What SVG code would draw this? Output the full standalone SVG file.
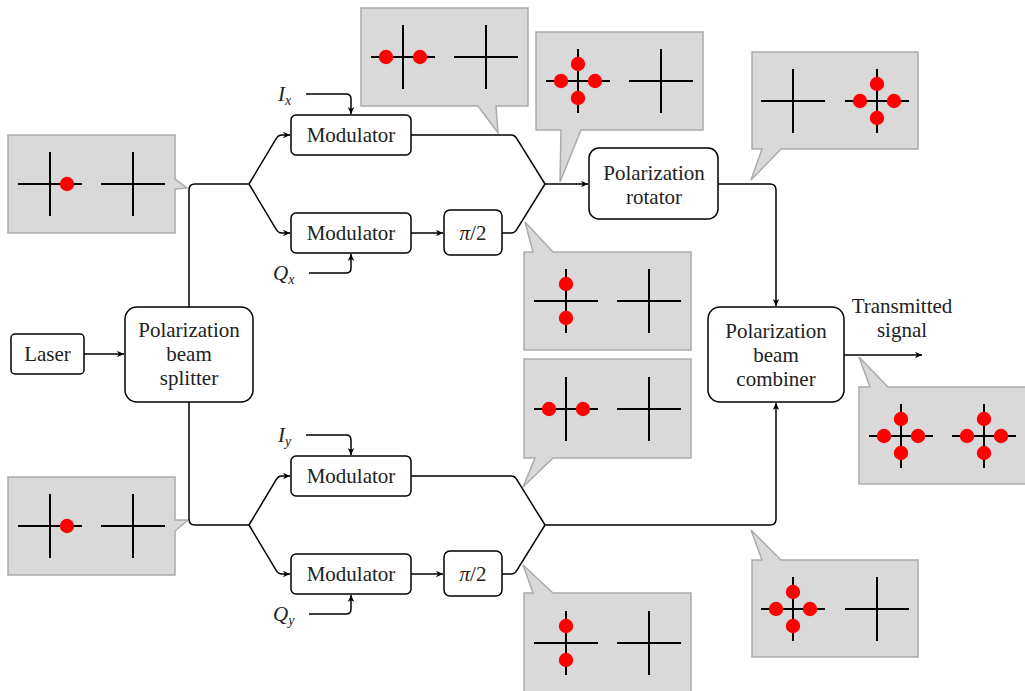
<svg xmlns="http://www.w3.org/2000/svg" xmlns:xlink="http://www.w3.org/1999/xlink" width="1025" height="691" viewBox="0 0 1025 691">
<style>
.box{fill:#fff;stroke:#000;stroke-width:1.5}
.t{font-size:21px;fill:#222;text-anchor:middle}
.m{font-size:21px;font-style:italic;fill:#222}
.sub{font-size:14px}
.c{fill:none;stroke:#000;stroke-width:1.5}
.co{fill:#d9d9d9;stroke:#ababab;stroke-width:1.5}
.x{stroke:#000;stroke-width:2}
</style>
<defs>
<marker id="ar" viewBox="-8 -4 9 8" refX="0" refY="0" markerWidth="9" markerHeight="8" markerUnits="userSpaceOnUse" orient="auto">
<path d="M-7,-3.3 L0,0 L-7,3.3 L-5,0 Z" fill="#000"/>
</marker>
<g id="cross"><line class="x" x1="-32" y1="0" x2="32" y2="0"/><line class="x" x1="0" y1="-32" x2="0" y2="32"/></g>
<circle id="dot" r="7.2" fill="#ff0000"/>
</defs>

<g id="callouts">
<g id="callout1"><path class="co" d="M8,135 H175 V179 L187,188 L175,189 V233 H8 Z"/>
<use xlink:href="#cross" x="50" y="184"/><use xlink:href="#dot" x="67" y="184"/><use xlink:href="#cross" x="133" y="184"/></g>
<g id="callout2"><path class="co" d="M361,8 H528 V106 H496 L498,133 L478,106 H361 Z"/>
<use xlink:href="#cross" x="403" y="57"/><use xlink:href="#dot" x="386" y="57"/><use xlink:href="#dot" x="420" y="57"/><use xlink:href="#cross" x="486" y="57"/></g>
<g id="callout3"><path class="co" d="M536,32 H703 V130 H581 L560,182 L561,130 H536 Z"/>
<use xlink:href="#cross" x="578" y="81"/><use xlink:href="#dot" x="561" y="81"/><use xlink:href="#dot" x="595" y="81"/><use xlink:href="#dot" x="578" y="64"/><use xlink:href="#dot" x="578" y="98"/><use xlink:href="#cross" x="661" y="81"/></g>
<g id="callout4"><path class="co" d="M752,52 H918 V149 H781 L751,180 L762,149 H752 Z"/>
<use xlink:href="#cross" x="793" y="101"/><use xlink:href="#cross" x="877" y="101"/><use xlink:href="#dot" x="860" y="101"/><use xlink:href="#dot" x="894" y="101"/><use xlink:href="#dot" x="877" y="84"/><use xlink:href="#dot" x="877" y="118"/></g>
<g id="callout5"><path class="co" d="M524,252 H533 L525,222 L553,252 H691 V350 H524 Z"/>
<use xlink:href="#cross" x="566" y="301"/><use xlink:href="#dot" x="566" y="284"/><use xlink:href="#dot" x="566" y="318"/><use xlink:href="#cross" x="649" y="301"/></g>
<g id="callout6"><path class="co" d="M524,359 H691 V458 H553 L523,487 L535,458 H524 Z"/>
<use xlink:href="#cross" x="566" y="409"/><use xlink:href="#dot" x="549" y="409"/><use xlink:href="#dot" x="583" y="409"/><use xlink:href="#cross" x="649" y="409"/></g>
<g id="callout7"><path class="co" d="M859,387 H870 L859,357 L888,387 H1026 V484 H859 Z"/>
<use xlink:href="#cross" x="901" y="436"/><use xlink:href="#dot" x="884" y="436"/><use xlink:href="#dot" x="918" y="436"/><use xlink:href="#dot" x="901" y="419"/><use xlink:href="#dot" x="901" y="453"/>
<use xlink:href="#cross" x="984" y="436"/><use xlink:href="#dot" x="967" y="436"/><use xlink:href="#dot" x="1001" y="436"/><use xlink:href="#dot" x="984" y="419"/><use xlink:href="#dot" x="984" y="453"/></g>
<g id="callout8"><path class="co" d="M752,560 H762 L751,530 L781,560 H918 V657 H752 Z"/>
<use xlink:href="#cross" x="793" y="609"/><use xlink:href="#dot" x="776" y="609"/><use xlink:href="#dot" x="810" y="609"/><use xlink:href="#dot" x="793" y="592"/><use xlink:href="#dot" x="793" y="626"/><use xlink:href="#cross" x="877" y="609"/></g>
<g id="callout9"><path class="co" d="M524,593 H533 L523,565 L553,593 H691 V692 H524 Z"/>
<use xlink:href="#cross" x="566" y="643"/><use xlink:href="#dot" x="566" y="626"/><use xlink:href="#dot" x="566" y="660"/><use xlink:href="#cross" x="649" y="643"/></g>
<g id="callout10"><path class="co" d="M8,477 H175 V520 L188,520 L175,531 V575 H8 Z"/>
<use xlink:href="#cross" x="50" y="526"/><use xlink:href="#dot" x="67" y="526"/><use xlink:href="#cross" x="133" y="526"/></g>
</g>

<g id="connectors">
<path class="c" d="M84,354 H124" marker-end="url(#ar)"/>
<path class="c" d="M189,307 V190 Q189,184 195,184 H249"/>
<path class="c" d="M189,402 V519 Q189,525 195,525 H249"/>
<path class="c" d="M249,184 L276,139 Q278,135 282,135 H290" marker-end="url(#ar)"/>
<path class="c" d="M249,184 L276,229 Q278,233 282,233 H290" marker-end="url(#ar)"/>
<path class="c" d="M411,233 H443" marker-end="url(#ar)"/>
<path class="c" d="M411,135 H511 Q515,135 517,139 L545,184"/>
<path class="c" d="M502,233 H511 Q515,233 517,229 L545,184"/>
<path class="c" d="M545,184 H588" marker-end="url(#ar)"/>
<path class="c" d="M306,94 H346 Q351,94 351,99 V114" marker-end="url(#ar)"/>
<path class="c" d="M309,273 H346 Q351,273 351,268 V254" marker-end="url(#ar)"/>
<path class="c" d="M718,184 H770 Q776,184 776,190 V306" marker-end="url(#ar)"/>
<path class="c" d="M249,525 L276,480 Q278,476 282,476 H290" marker-end="url(#ar)"/>
<path class="c" d="M249,525 L276,570 Q278,574 282,574 H290" marker-end="url(#ar)"/>
<path class="c" d="M411,574 H443" marker-end="url(#ar)"/>
<path class="c" d="M411,476 H511 Q515,476 517,480 L545,525"/>
<path class="c" d="M502,574 H511 Q515,574 517,570 L545,525"/>
<path class="c" d="M545,525 H770 Q776,525 776,519 V403" marker-end="url(#ar)"/>
<path class="c" d="M306,435 H346 Q351,435 351,440 V455" marker-end="url(#ar)"/>
<path class="c" d="M309,614 H346 Q351,614 351,609 V595" marker-end="url(#ar)"/>
<path class="c" d="M844,355 H922" marker-end="url(#ar)"/>
</g>

<g font-family="Liberation Serif, Times New Roman, serif">
<g id="laser"><rect class="box" x="11" y="334" width="73" height="40" rx="4"/><text class="t" x="47.5" y="361">Laser</text></g>
<g id="pbs"><rect class="box" x="125" y="307" width="128" height="95" rx="12"/>
<text class="t" x="189" y="337">Polarization</text><text class="t" x="189" y="361">beam</text><text class="t" x="189" y="385">splitter</text></g>
<g id="modIx"><rect class="box" x="291" y="115" width="120" height="40" rx="5"/><text class="t" x="351" y="142">Modulator</text></g>
<g id="modQx"><rect class="box" x="291" y="213" width="120" height="40" rx="5"/><text class="t" x="351" y="240">Modulator</text></g>
<g id="pi2x"><rect class="box" x="444" y="210" width="58" height="45" rx="6"/><text class="t" x="473" y="240"><tspan font-style="italic">π</tspan>/2</text></g>
<g id="modIy"><rect class="box" x="291" y="456" width="120" height="40" rx="5"/><text class="t" x="351" y="483">Modulator</text></g>
<g id="modQy"><rect class="box" x="291" y="554" width="120" height="40" rx="5"/><text class="t" x="351" y="581">Modulator</text></g>
<g id="pi2y"><rect class="box" x="444" y="551" width="58" height="45" rx="6"/><text class="t" x="473" y="581"><tspan font-style="italic">π</tspan>/2</text></g>
<g id="rotator"><rect class="box" x="589" y="148" width="129" height="71" rx="10"/>
<text class="t" x="654" y="180">Polarization</text><text class="t" x="654" y="204">rotator</text></g>
<g id="pbc"><rect class="box" x="708" y="307" width="136" height="95" rx="12"/>
<text class="t" x="776" y="338">Polarization</text><text class="t" x="776" y="362">beam</text><text class="t" x="776" y="386">combiner</text></g>
<g id="labels">
<text class="m" x="278" y="101">I<tspan class="sub" dy="4">x</tspan></text>
<text class="m" x="273" y="280">Q<tspan class="sub" dy="4">x</tspan></text>
<text class="m" x="278" y="442">I<tspan class="sub" dy="4">y</tspan></text>
<text class="m" x="273" y="621">Q<tspan class="sub" dy="4">y</tspan></text>
<text class="t" x="902" y="313">Transmitted</text>
<text class="t" x="902" y="337">signal</text>
</g>
</g>
</svg>
